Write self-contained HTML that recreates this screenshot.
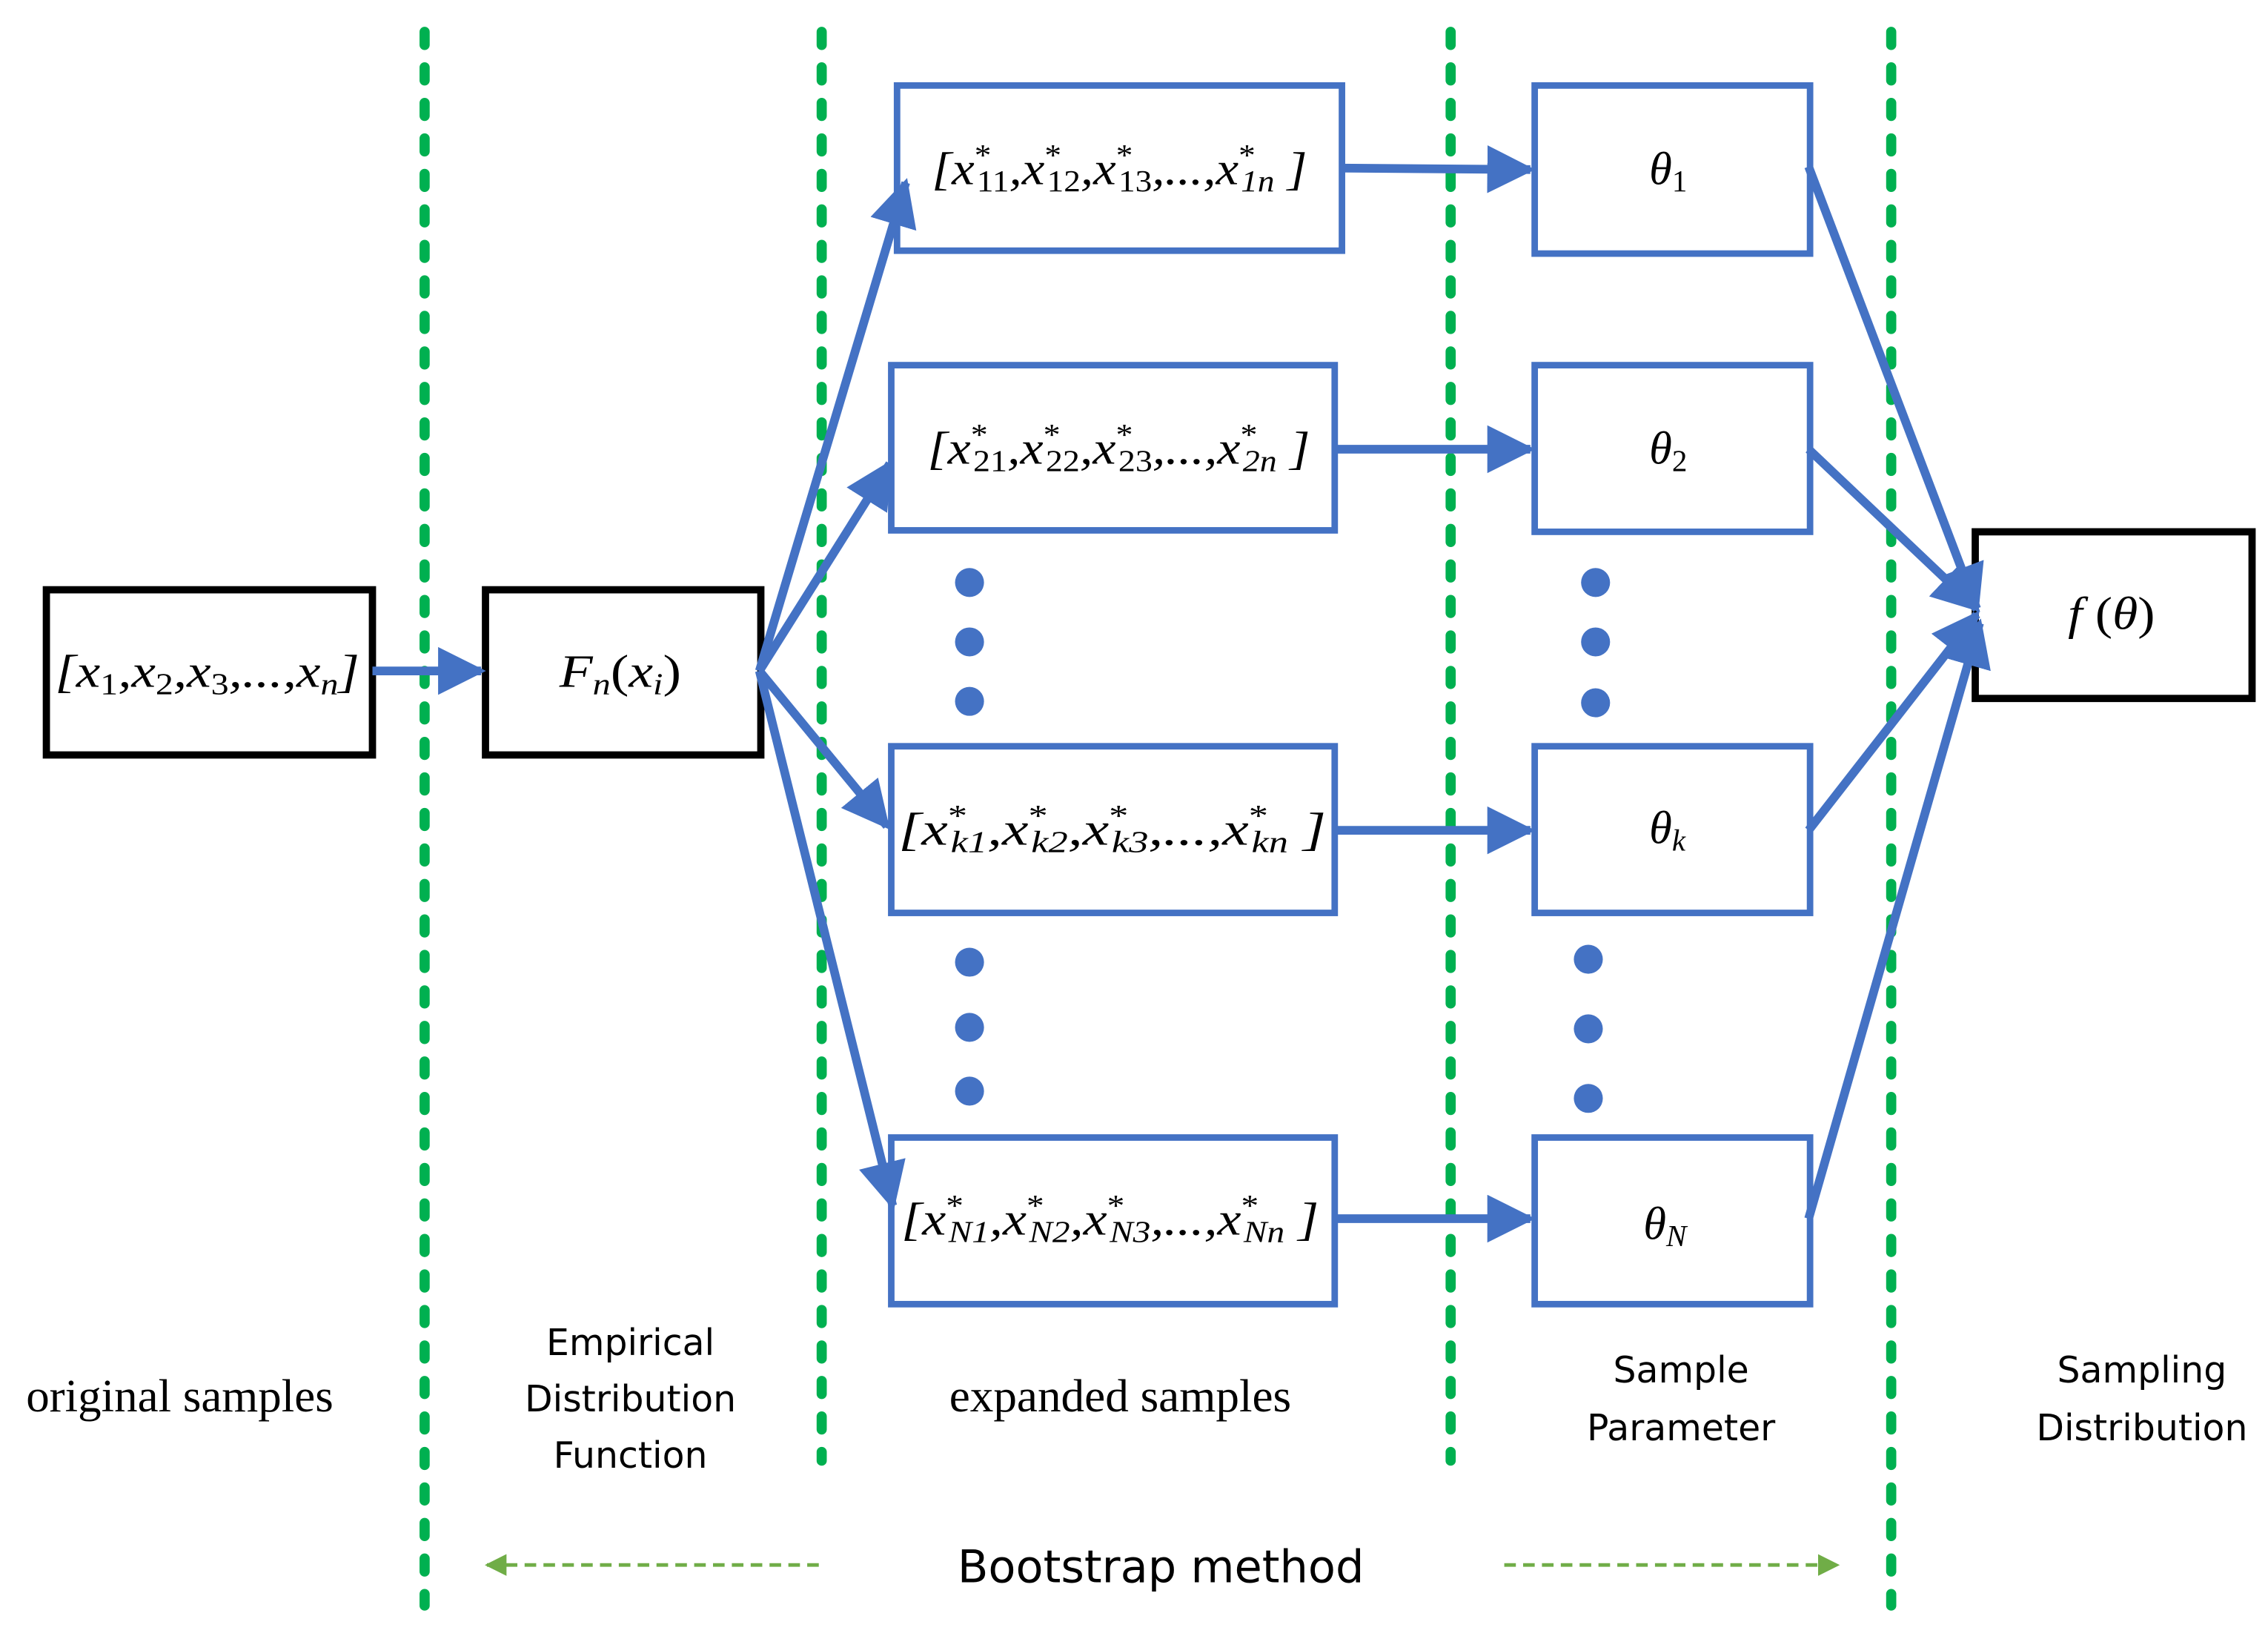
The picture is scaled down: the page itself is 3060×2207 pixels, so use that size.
<!DOCTYPE html>
<html><head><meta charset="utf-8"><style>html,body{margin:0;padding:0;background:#fff}svg{display:block}</style></head>
<body>
<svg width="3060" height="2207" viewBox="0 0 1565 1129" preserveAspectRatio="none" xmlns="http://www.w3.org/2000/svg">
<defs>
<marker id="ah" viewBox="0 0 10 10" refX="9" refY="5" markerWidth="5.5" markerHeight="5.5" orient="auto" markerUnits="strokeWidth"><path d="M0,0 L10,5 L0,10 z" fill="#4472c4"/></marker>
<marker id="gh" viewBox="0 0 10 10" refX="9" refY="5" markerWidth="6" markerHeight="6" orient="auto" markerUnits="strokeWidth"><path d="M0,0 L10,5 L0,10 z" fill="#70ad47"/></marker>
</defs>
<g stroke="#00b050" stroke-width="7" stroke-linecap="round" stroke-dasharray="9 15.5" fill="none">
<line x1="293" y1="22" x2="293" y2="1108"/>
<line x1="567" y1="22" x2="567" y2="1008"/>
<line x1="1001" y1="22" x2="1001" y2="1008"/>
<line x1="1305" y1="22" x2="1305" y2="1108"/>
</g>
<g fill="none" stroke="#000" stroke-width="5">
<rect x="32" y="407" width="225" height="114"/>
<rect x="335" y="407" width="190" height="114"/>
<rect x="1363" y="367" width="191" height="115"/>
</g>
<g fill="none" stroke="#4472c4" stroke-width="4.5">
<rect x="619" y="59" width="307" height="114"/>
<rect x="615" y="252" width="306" height="114"/>
<rect x="615" y="515" width="306" height="115"/>
<rect x="615" y="785" width="306" height="115"/>
<rect x="1059" y="59" width="190" height="116"/>
<rect x="1059" y="252" width="190" height="115"/>
<rect x="1059" y="515" width="190" height="115"/>
<rect x="1059" y="785" width="190" height="115"/>
</g>
<g stroke="#4472c4" stroke-width="6" fill="none" marker-end="url(#ah)">
<line x1="257" y1="463" x2="332" y2="463"/>
<line x1="524" y1="463" x2="625" y2="126"/>
<line x1="524" y1="463" x2="614" y2="320"/>
<line x1="524" y1="463" x2="612" y2="570"/>
<line x1="524" y1="463" x2="616" y2="832"/>
<line x1="925" y1="116" x2="1056" y2="117"/>
<line x1="921" y1="310" x2="1056" y2="310"/>
<line x1="921" y1="573" x2="1056" y2="573"/>
<line x1="921" y1="841" x2="1056" y2="841"/>
<line x1="1248" y1="115" x2="1364" y2="420"/>
<line x1="1248" y1="310" x2="1364" y2="420"/>
<line x1="1248" y1="573" x2="1364" y2="424"/>
<line x1="1248" y1="841" x2="1366" y2="430"/>
</g>
<g fill="#4472c4">
<circle cx="669" cy="402" r="10"/><circle cx="669" cy="443" r="10"/><circle cx="669" cy="484" r="10"/>
<circle cx="669" cy="664" r="10"/><circle cx="669" cy="709" r="10"/><circle cx="669" cy="753" r="10"/>
<circle cx="1101" cy="402" r="10"/><circle cx="1101" cy="443" r="10"/><circle cx="1101" cy="485" r="10"/>
<circle cx="1096" cy="662" r="10"/><circle cx="1096" cy="710" r="10"/><circle cx="1096" cy="758" r="10"/>
</g>
<g font-family="Liberation Serif, serif" font-style="italic" font-size="32" fill="#000" lengthAdjust="spacingAndGlyphs">
<text x="38" y="474" textLength="210" lengthAdjust="spacingAndGlyphs">[x<tspan font-size="21" dy="5" font-style="normal">1</tspan><tspan dy="-5">,x</tspan><tspan font-size="21" dy="5" font-style="normal">2</tspan><tspan dy="-5">,x</tspan><tspan font-size="21" dy="5" font-style="normal">3</tspan><tspan dy="-5">,...,x</tspan><tspan font-size="21" dy="5">n</tspan><tspan dy="-5">]</tspan></text>
<text x="386" y="474" textLength="84" lengthAdjust="spacingAndGlyphs">F<tspan font-size="21" dy="5">n</tspan><tspan dy="-5" font-style="normal">(</tspan>x<tspan font-size="21" dy="5">i</tspan><tspan dy="-5" font-style="normal">)</tspan></text>
<text x="643" y="127" textLength="259" lengthAdjust="spacingAndGlyphs">[x<tspan font-size="21" dy="-13" font-style="normal">*</tspan><tspan font-size="21" dx="-9" dy="18" font-style="normal">11</tspan><tspan dy="-5">,x</tspan><tspan font-size="21" dy="-13" font-style="normal">*</tspan><tspan font-size="21" dx="-9" dy="18" font-style="normal">12</tspan><tspan dy="-5">,x</tspan><tspan font-size="21" dy="-13" font-style="normal">*</tspan><tspan font-size="21" dx="-9" dy="18" font-style="normal">13</tspan><tspan dy="-5">,...,x</tspan><tspan font-size="21" dy="-13" font-style="normal">*</tspan><tspan font-size="21" dx="-9" dy="18">1n</tspan><tspan dy="-5"> ]</tspan></text>
<text x="640" y="320" textLength="264" lengthAdjust="spacingAndGlyphs">[x<tspan font-size="21" dy="-13" font-style="normal">*</tspan><tspan font-size="21" dx="-9" dy="18" font-style="normal">21</tspan><tspan dy="-5">,x</tspan><tspan font-size="21" dy="-13" font-style="normal">*</tspan><tspan font-size="21" dx="-9" dy="18" font-style="normal">22</tspan><tspan dy="-5">,x</tspan><tspan font-size="21" dy="-13" font-style="normal">*</tspan><tspan font-size="21" dx="-9" dy="18" font-style="normal">23</tspan><tspan dy="-5">,...,x</tspan><tspan font-size="21" dy="-13" font-style="normal">*</tspan><tspan font-size="21" dx="-9" dy="18">2n</tspan><tspan dy="-5"> ]</tspan></text>
<text x="620" y="583" textLength="295" lengthAdjust="spacingAndGlyphs">[x<tspan font-size="21" dy="-13" font-style="normal">*</tspan><tspan font-size="21" dx="-9" dy="18">k1</tspan><tspan dy="-5">,x</tspan><tspan font-size="21" dy="-13" font-style="normal">*</tspan><tspan font-size="21" dx="-9" dy="18">k2</tspan><tspan dy="-5">,x</tspan><tspan font-size="21" dy="-13" font-style="normal">*</tspan><tspan font-size="21" dx="-9" dy="18">k3</tspan><tspan dy="-5">,...,x</tspan><tspan font-size="21" dy="-13" font-style="normal">*</tspan><tspan font-size="21" dx="-9" dy="18">kn</tspan><tspan dy="-5"> ]</tspan></text>
<text x="622" y="852" textLength="288" lengthAdjust="spacingAndGlyphs">[x<tspan font-size="21" dy="-13" font-style="normal">*</tspan><tspan font-size="21" dx="-9" dy="18">N1</tspan><tspan dy="-5">,x</tspan><tspan font-size="21" dy="-13" font-style="normal">*</tspan><tspan font-size="21" dx="-9" dy="18">N2</tspan><tspan dy="-5">,x</tspan><tspan font-size="21" dy="-13" font-style="normal">*</tspan><tspan font-size="21" dx="-9" dy="18">N3</tspan><tspan dy="-5">,...,x</tspan><tspan font-size="21" dy="-13" font-style="normal">*</tspan><tspan font-size="21" dx="-9" dy="18">Nn</tspan><tspan dy="-5"> ]</tspan></text>
<text x="1138" y="127">θ<tspan font-size="21" dy="5" font-style="normal">1</tspan></text>
<text x="1138" y="320">θ<tspan font-size="21" dy="5" font-style="normal">2</tspan></text>
<text x="1138" y="582">θ<tspan font-size="21" dy="5">k</tspan></text>
<text x="1134" y="855">θ<tspan font-size="21" dy="5">N</tspan></text>
<text x="1427" y="434" textLength="60" lengthAdjust="spacingAndGlyphs">f<tspan font-style="normal"> (</tspan>θ<tspan font-style="normal">)</tspan></text>
</g>
<g font-family="Liberation Serif, serif" font-size="32" fill="#000">
<text x="18" y="974" textLength="212" lengthAdjust="spacingAndGlyphs">original samples</text>
<text x="655" y="974" textLength="236" lengthAdjust="spacingAndGlyphs">expanded samples</text>
</g>
<g font-family="DejaVu Sans, Liberation Sans, sans-serif" font-size="25" fill="#000" text-anchor="middle">
<text x="435" y="935">Empirical</text>
<text x="435" y="974">Distribution</text>
<text x="435" y="1013">Function</text>
<text x="1160" y="954">Sample</text>
<text x="1160" y="994">Parameter</text>
<text x="1478" y="954">Sampling</text>
<text x="1478" y="994">Distribution</text>
<text x="801" y="1092" font-size="31">Bootstrap method</text>
</g>
<g stroke="#70ad47" stroke-width="2.5" stroke-dasharray="8 5" fill="none" marker-end="url(#gh)">
<line x1="565" y1="1080" x2="336" y2="1080"/>
<line x1="1038" y1="1080" x2="1268" y2="1080"/>
</g>
</svg>
</body></html>
